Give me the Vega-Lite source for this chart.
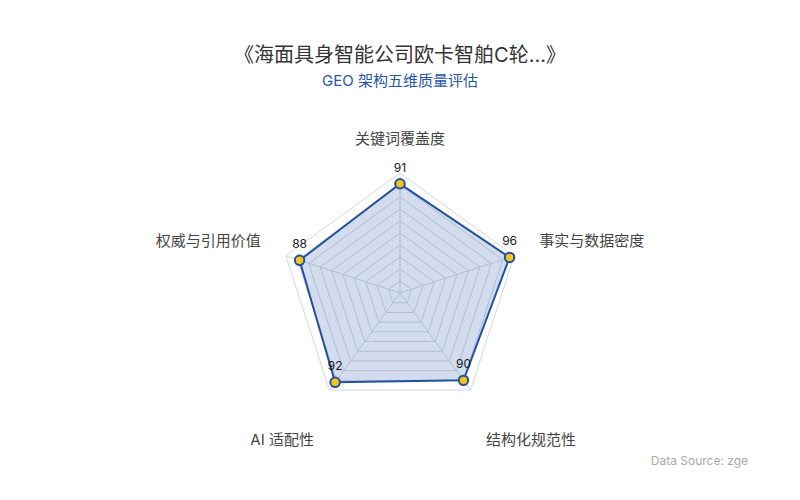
{
  "$schema": "https://vega.github.io/schema/vega-lite/v6.json",
  "description": "Radar chart: GEO five-dimension quality evaluation",
  "width": 800,
  "height": 400,
  "autosize": "none",
  "padding": {"top": 100, "left": 0, "right": 0, "bottom": 0},
  "background": "white",
  "title": {
    "text": "《海面具身智能公司欧卡智舶C轮...》",
    "subtitle": "GEO 架构五维质量评估",
    "anchor": "middle",
    "font": "Inter, Noto Sans CJK SC",
    "fontSize": 20,
    "fontWeight": "normal",
    "color": "#333333",
    "subtitleFont": "Inter, Noto Sans CJK SC",
    "subtitleFontSize": 15,
    "subtitleColor": "#2a55a5",
    "subtitlePadding": 8,
    "offset": 11
  },
  "datasets": {
    "dims": [
      {"dim": "关键词覆盖度", "score": 91, "k": 0},
      {"dim": "事实与数据密度", "score": 96, "k": 1},
      {"dim": "结构化规范性", "score": 90, "k": 2},
      {"dim": "AI 适配性", "score": 92, "k": 3},
      {"dim": "权威与引用价值", "score": 88, "k": 4}
    ],
    "rings": [
      {"ring": 10}, {"ring": 20}, {"ring": 30}, {"ring": 40}, {"ring": 50},
      {"ring": 60}, {"ring": 70}, {"ring": 80}, {"ring": 90}, {"ring": 100}
    ],
    "source": [
      {"note": "Data Source: zge"}
    ]
  },
  "config": {
    "view": {"stroke": null},
    "font": "Inter, Noto Sans CJK SC"
  },
  "layer": [
    {
      "data": {"name": "rings"},
      "transform": [
        {"calculate": "[0, 1, 2, 3, 4]", "as": "k"},
        {"flatten": ["k"]},
        {"calculate": "datum.ring * sin(datum.k * 2 * PI / 5)", "as": "x"},
        {"calculate": "datum.ring * cos(datum.k * 2 * PI / 5)", "as": "y"}
      ],
      "mark": {"type": "line", "interpolate": "linear-closed", "stroke": "#d3d9e3", "strokeWidth": 1},
      "encoding": {
        "x": {"field": "x", "type": "quantitative", "scale": {"domain": [-333.33, 333.33], "nice": false, "zero": false}, "axis": null},
        "y": {"field": "y", "type": "quantitative", "scale": {"domain": [-172.5, 160.83], "nice": false, "zero": false}, "axis": null},
        "detail": {"field": "ring", "type": "nominal"},
        "order": {"field": "k", "type": "quantitative"}
      }
    },
    {
      "data": {"name": "dims"},
      "transform": [
        {"calculate": "100 * sin(datum.k * 2 * PI / 5)", "as": "x"},
        {"calculate": "100 * cos(datum.k * 2 * PI / 5)", "as": "y"},
        {"calculate": "0", "as": "x0"},
        {"calculate": "0", "as": "y0"}
      ],
      "mark": {"type": "rule", "stroke": "#d3d9e3", "strokeWidth": 1},
      "encoding": {
        "x": {"field": "x0", "type": "quantitative"},
        "y": {"field": "y0", "type": "quantitative"},
        "x2": {"field": "x"},
        "y2": {"field": "y"}
      }
    },
    {
      "data": {"name": "dims"},
      "transform": [
        {"calculate": "datum.score * sin(datum.k * 2 * PI / 5)", "as": "x"},
        {"calculate": "datum.score * cos(datum.k * 2 * PI / 5)", "as": "y"}
      ],
      "layer": [
        {
          "mark": {"type": "line", "interpolate": "linear-closed", "stroke": "#2350a0", "strokeWidth": 2, "fill": "#2350a0", "fillOpacity": 0.2},
          "encoding": {
            "x": {"field": "x", "type": "quantitative"},
            "y": {"field": "y", "type": "quantitative"},
            "order": {"field": "k", "type": "quantitative"}
          }
        },
        {
          "mark": {"type": "point", "filled": true, "fill": "#f5c518", "stroke": "#2350a0", "strokeWidth": 2, "size": 90, "opacity": 1},
          "encoding": {
            "x": {"field": "x", "type": "quantitative"},
            "y": {"field": "y", "type": "quantitative"}
          }
        },
        {
          "mark": {"type": "text", "dy": -16, "fontSize": 12, "color": "#1a1a1a", "font": "Inter"},
          "encoding": {
            "x": {"field": "x", "type": "quantitative"},
            "y": {"field": "y", "type": "quantitative"},
            "text": {"field": "score", "type": "quantitative"}
          }
        }
      ]
    },
    {
      "data": {"name": "dims"},
      "transform": [
        {"calculate": "122 * sin(datum.k * 2 * PI / 5)", "as": "lx"},
        {"calculate": "cos(datum.k * 2 * PI / 5) < 0 ? 122 * cos(datum.k * 2 * PI / 5) - 24 : 122 * cos(datum.k * 2 * PI / 5) + 6", "as": "ly"},
        {"calculate": "datum.k == 0 ? 'center' : (datum.k <= 2 ? 'left' : 'right')", "as": "side"}
      ],
      "layer": [
        {
          "transform": [{"filter": "datum.side == 'center'"}],
          "mark": {"type": "text", "align": "center", "baseline": "middle", "fontSize": 15, "color": "#444444"},
          "encoding": {
            "x": {"field": "lx", "type": "quantitative"},
            "y": {"field": "ly", "type": "quantitative"},
            "text": {"field": "dim", "type": "nominal"}
          }
        },
        {
          "transform": [{"filter": "datum.side == 'left'"}],
          "mark": {"type": "text", "align": "left", "baseline": "middle", "fontSize": 15, "color": "#444444"},
          "encoding": {
            "x": {"field": "lx", "type": "quantitative"},
            "y": {"field": "ly", "type": "quantitative"},
            "text": {"field": "dim", "type": "nominal"}
          }
        },
        {
          "transform": [{"filter": "datum.side == 'right'"}],
          "mark": {"type": "text", "align": "right", "baseline": "middle", "fontSize": 15, "color": "#444444"},
          "encoding": {
            "x": {"field": "lx", "type": "quantitative"},
            "y": {"field": "ly", "type": "quantitative"},
            "text": {"field": "dim", "type": "nominal"}
          }
        }
      ]
    },
    {
      "data": {"name": "source"},
      "transform": [
        {"calculate": "209", "as": "sx"},
        {"calculate": "-140", "as": "sy"}
      ],
      "mark": {"type": "text", "align": "left", "baseline": "middle", "fontSize": 12, "color": "#aaaaaa", "font": "Inter"},
      "encoding": {
        "x": {"field": "sx", "type": "quantitative"},
        "y": {"field": "sy", "type": "quantitative"},
        "text": {"field": "note", "type": "nominal"}
      }
    }
  ]
}
